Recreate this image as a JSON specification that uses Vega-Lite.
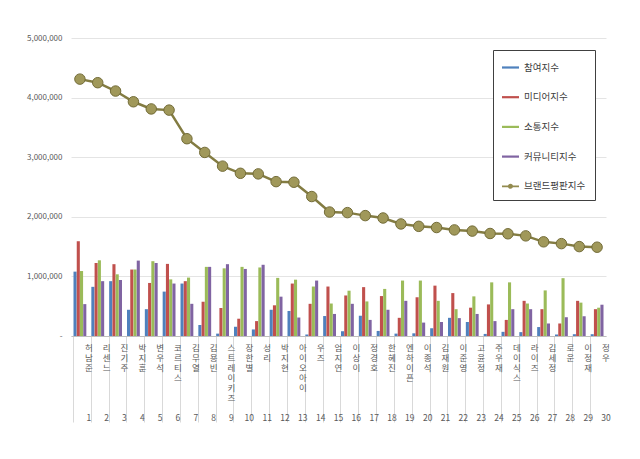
{
  "$schema": "https://vega.github.io/schema/vega-lite/v6.json",
  "width": 535,
  "height": 298,
  "autosize": "none",
  "padding": {"left": 71, "top": 38, "right": 34, "bottom": 123},
  "background": "white",
  "config": {
    "font": "Noto Sans CJK KR",
    "view": {"stroke": null}
  },
  "data": {
    "values": [
      {"name": "허남준", "참여지수": 1080000, "미디어지수": 1590000, "소통지수": 1090000, "커뮤니티지수": 535000, "브랜드평판지수": 4310000},
      {"name": "리센느", "참여지수": 825000, "미디어지수": 1225000, "소통지수": 1270000, "커뮤니티지수": 920000, "브랜드평판지수": 4250000},
      {"name": "진기주", "참여지수": 920000, "미디어지수": 1205000, "소통지수": 1035000, "커뮤니티지수": 940000, "브랜드평판지수": 4110000},
      {"name": "박지훈", "참여지수": 440000, "미디어지수": 1115000, "소통지수": 1115000, "커뮤니티지수": 1265000, "브랜드평판지수": 3930000},
      {"name": "변우석", "참여지수": 450000, "미디어지수": 890000, "소통지수": 1255000, "커뮤니티지수": 1225000, "브랜드평판지수": 3810000},
      {"name": "코르티스", "참여지수": 745000, "미디어지수": 1210000, "소통지수": 950000, "커뮤니티지수": 880000, "브랜드평판지수": 3790000},
      {"name": "김무열", "참여지수": 880000, "미디어지수": 920000, "소통지수": 980000, "커뮤니티지수": 540000, "브랜드평판지수": 3310000},
      {"name": "김용빈", "참여지수": 185000, "미디어지수": 575000, "소통지수": 1160000, "커뮤니티지수": 1160000, "브랜드평판지수": 3080000},
      {"name": "스트레이키즈", "참여지수": 40000, "미디어지수": 470000, "소통지수": 1135000, "커뮤니티지수": 1205000, "브랜드평판지수": 2850000},
      {"name": "장한별", "참여지수": 155000, "미디어지수": 290000, "소통지수": 1160000, "커뮤니티지수": 1125000, "브랜드평판지수": 2730000},
      {"name": "성리", "참여지수": 110000, "미디어지수": 250000, "소통지수": 1150000, "커뮤니티지수": 1195000, "브랜드평판지수": 2720000},
      {"name": "박지현", "참여지수": 440000, "미디어지수": 515000, "소통지수": 975000, "커뮤니티지수": 660000, "브랜드평판지수": 2590000},
      {"name": "아이오아이", "참여지수": 420000, "미디어지수": 880000, "소통지수": 945000, "커뮤니티지수": 310000, "브랜드평판지수": 2580000},
      {"name": "우즈", "참여지수": 25000, "미디어지수": 540000, "소통지수": 830000, "커뮤니티지수": 930000, "브랜드평판지수": 2340000},
      {"name": "엄지연", "참여지수": 335000, "미디어지수": 830000, "소통지수": 545000, "커뮤니티지수": 370000, "브랜드평판지수": 2080000},
      {"name": "이상이", "참여지수": 80000, "미디어지수": 680000, "소통지수": 760000, "커뮤니티지수": 540000, "브랜드평판지수": 2070000},
      {"name": "정경호", "참여지수": 340000, "미디어지수": 820000, "소통지수": 580000, "커뮤니티지수": 270000, "브랜드평판지수": 2020000},
      {"name": "한혜진", "참여지수": 85000, "미디어지수": 670000, "소통지수": 790000, "커뮤니티지수": 440000, "브랜드평판지수": 1980000},
      {"name": "엔하이픈", "참여지수": 40000, "미디어지수": 305000, "소통지수": 930000, "커뮤니티지수": 590000, "브랜드평판지수": 1880000},
      {"name": "이종석", "참여지수": 45000, "미디어지수": 650000, "소통지수": 930000, "커뮤니티지수": 225000, "브랜드평판지수": 1840000},
      {"name": "김재원", "참여지수": 130000, "미디어지수": 845000, "소통지수": 590000, "커뮤니티지수": 235000, "브랜드평판지수": 1820000},
      {"name": "이준영", "참여지수": 305000, "미디어지수": 720000, "소통지수": 450000, "커뮤니티지수": 300000, "브랜드평판지수": 1780000},
      {"name": "고윤정", "참여지수": 235000, "미디어지수": 475000, "소통지수": 665000, "커뮤니티지수": 370000, "브랜드평판지수": 1760000},
      {"name": "주우재", "참여지수": 35000, "미디어지수": 530000, "소통지수": 900000, "커뮤니티지수": 250000, "브랜드평판지수": 1720000},
      {"name": "데이식스", "참여지수": 70000, "미디어지수": 270000, "소통지수": 900000, "커뮤니티지수": 450000, "브랜드평판지수": 1715000},
      {"name": "라이즈", "참여지수": 65000, "미디어지수": 590000, "소통지수": 545000, "커뮤니티지수": 450000, "브랜드평판지수": 1680000},
      {"name": "김세정", "참여지수": 150000, "미디어지수": 450000, "소통지수": 765000, "커뮤니티지수": 210000, "브랜드평판지수": 1580000},
      {"name": "로운", "참여지수": 25000, "미디어지수": 210000, "소통지수": 970000, "커뮤니티지수": 315000, "브랜드평판지수": 1550000},
      {"name": "이정재", "참여지수": 30000, "미디어지수": 590000, "소통지수": 560000, "커뮤니티지수": 330000, "브랜드평판지수": 1500000},
      {"name": "정우", "참여지수": 30000, "미디어지수": 450000, "소통지수": 475000, "커뮤니티지수": 525000, "브랜드평판지수": 1490000}
    ]
  },
  "encoding": {
    "x": {
      "field": "name",
      "type": "nominal",
      "sort": null,
      "scale": {"paddingInner": 0.28, "paddingOuter": 0.14},
      "axis": {
        "title": null,
        "bandPosition": 0,
        "labelOffset": 8.9,
        "labelAngle": 0,
        "labelAlign": "center",
        "labelBaseline": "top",
        "labelPadding": -79,
        "labelFontSize": 8.5,
        "labelColor": "#595959",
        "labelLineHeight": 10,
        "labelOverlap": false,
        "labelBound": false,
        "labelExpr": "split(join(split(datum.label, ''), '~') + slice('~\u200b~\u200b~\u200b~\u200b~\u200b~\u200b~\u200b', 0, 2 * (7 - length(datum.label))) + '~' + (round(datum.index * 29) + 1), '~')",
        "tickSize": 86,
        "tickColor": "#d9d9d9",
        "domainColor": "#bfbfbf"
      }
    }
  },
  "layer": [
    {
      "transform": [
        {"fold": ["참여지수", "미디어지수", "소통지수", "커뮤니티지수"], "as": ["series", "value"]}
      ],
      "mark": {"type": "bar"},
      "encoding": {
        "xOffset": {
          "field": "series",
          "type": "nominal",
          "scale": {"domain": ["참여지수", "미디어지수", "소통지수", "커뮤니티지수"], "paddingInner": 0.05}
        },
        "y": {
          "field": "value",
          "type": "quantitative",
          "scale": {"domain": [0, 5000000]},
          "axis": {
            "title": null,
            "values": [0, 500000, 1000000, 1500000, 2000000, 2500000, 3000000, 3500000, 4000000, 4500000, 5000000],
            "labelExpr": "datum.value == 0 ? '-' : format(datum.value, ',')",
            "domain": false,
            "ticks": false,
            "labelPadding": 9,
            "labelFontSize": 8,
            "labelColor": "#595959",
            "gridColor": "#e4e4e4"
          }
        },
        "color": {
          "field": "series",
          "type": "nominal",
          "scale": {
            "domain": ["참여지수", "미디어지수", "소통지수", "커뮤니티지수", "브랜드평판지수"],
            "range": ["#4f81bd", "#c0504d", "#9bbb59", "#8064a2", "#938b4f"]
          },
          "legend": {
            "title": null,
            "orient": "none",
            "legendX": 422,
            "legendY": 12,
            "strokeColor": "#404040",
            "fillColor": "white",
            "padding": 9,
            "rowPadding": 16.7,
            "labelFontSize": 9.5,
            "labelColor": "#404040",
            "labelOffset": 5,
            "symbolSize": 289,
            "symbolStrokeWidth": 0,
            "symbolType": {"expr": "datum.value === '브랜드평판지수' ? 'M-1,-0.1H1V0.1H-1Z M-0.3,0A0.3,0.3 0 1 1 0.3,0A0.3,0.3 0 1 1 -0.3,0Z' : 'M-1,-0.13H1V0.13H-1Z'"}
          }
        }
      }
    },
    {
      "mark": {"type": "line", "color": "#837c42", "strokeWidth": 2.5},
      "encoding": {
        "y": {"field": "브랜드평판지수", "type": "quantitative"}
      }
    },
    {
      "mark": {"type": "point", "filled": true, "size": 110, "fill": "#a0985a", "stroke": "#736c38", "strokeWidth": 1, "opacity": 1},
      "encoding": {
        "y": {"field": "브랜드평판지수", "type": "quantitative"}
      }
    }
  ]
}
